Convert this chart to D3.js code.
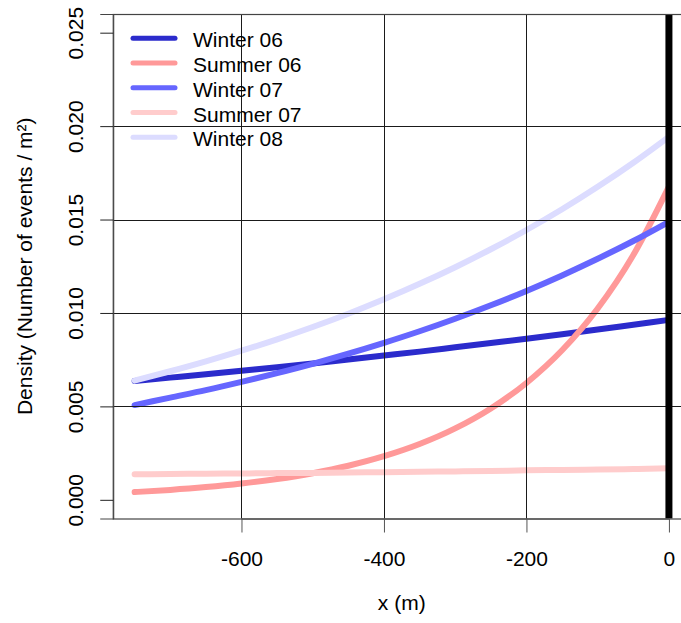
<!DOCTYPE html>
<html>
<head>
<meta charset="utf-8">
<script src="https://cdn.jsdelivr.net/npm/d3@7"></script>
<style>
  html, body { margin: 0; padding: 0; background: #fff; }
  svg { display: block; }
  text { font-family: "Liberation Sans", Arial, sans-serif; fill: #000; }
</style>
</head>
<body>
<svg id="chart" width="681" height="623"></svg>
<script>
// Distance from the origin (m)
const xValues = [-750, -700, -650, -600, -550, -500, -450, -400, -350, -300, -250, -200, -150, -100, -50, 0];

// Density of events per m² for each survey
const winter06 = [0.00636, 0.00654, 0.00672, 0.00691, 0.00710, 0.00730, 0.00751, 0.00772, 0.00793, 0.00816, 0.00839, 0.00862, 0.00886, 0.00911, 0.00937, 0.00963];
const summer06 = [0.000415, 0.000531, 0.000680, 0.000870, 0.001113, 0.001425, 0.001823, 0.002333, 0.002985, 0.003820, 0.004888, 0.006254, 0.008002, 0.010237, 0.013098, 0.016760];
const winter07 = [0.00507, 0.00547, 0.00587, 0.00631, 0.00678, 0.00728, 0.00782, 0.00840, 0.00902, 0.00969, 0.01041, 0.01118, 0.01201, 0.01290, 0.01385, 0.01488];
const summer07 = [0.00137, 0.00138, 0.00140, 0.00141, 0.00143, 0.00144, 0.00146, 0.00148, 0.00150, 0.00152, 0.00154, 0.00158, 0.00160, 0.00162, 0.00165, 0.00169];
const winter08 = [0.00638, 0.00688, 0.00741, 0.00798, 0.00859, 0.00925, 0.00996, 0.01073, 0.01156, 0.01245, 0.01341, 0.01444, 0.01555, 0.01675, 0.01804, 0.01943];

const seriesNames = ["Winter 06", "Summer 06", "Winter 07", "Summer 07", "Winter 08"];
const seriesColors = ["#2b2bcc", "#ff9999", "#6666ff", "#ffcccc", "#dcdcff"];
const seriesValues = [winter06, summer06, winter07, summer07, winter08];

const xTicks = [-600, -400, -200, 0];
const yTicks = [0, 0.005, 0.010, 0.015, 0.020, 0.025];
const yGrid = [0.005, 0.010, 0.015, 0.020];
const xGrid = [-600, -400, -200];

const svg = d3.select("#chart");
const plot = { left: 113.25, right: 690.3, top: 14, bottom: 518.5 };

// Axis limits -750..0 and 0..0.025, each padded by 4% on both sides
const x = d3.scaleLinear().domain([-780, 30]).range([plot.left, plot.right]);
const y = d3.scaleLinear().domain([-0.001, 0.026]).range([plot.bottom, plot.top]);

const fontSize = 21;

// Density curves
const line = d3.line()
  .x((d, i) => x(xValues[i]))
  .y(d => y(d))
  .curve(d3.curveMonotoneX);

svg.append("g")
  .selectAll("path")
  .data(seriesValues)
  .join("path")
  .attr("d", d => line(d))
  .attr("fill", "none")
  .attr("stroke", (d, i) => seriesColors[i])
  .attr("stroke-width", 6)
  .attr("stroke-linecap", "round")
  .attr("stroke-linejoin", "round");

// Reference grid
const grid = svg.append("g").attr("stroke", "#1a1a1a").attr("stroke-width", 1);
grid.selectAll("line.h")
  .data(yGrid)
  .join("line")
  .attr("class", "h")
  .attr("x1", plot.left).attr("x2", plot.right)
  .attr("y1", d => Math.round(y(d)) + 0.5)
  .attr("y2", d => Math.round(y(d)) + 0.5);
grid.selectAll("line.v")
  .data(xGrid)
  .join("line")
  .attr("class", "v")
  .attr("y1", plot.top).attr("y2", plot.bottom)
  .attr("x1", d => Math.round(x(d)) + 0.5)
  .attr("x2", d => Math.round(x(d)) + 0.5);

// Heavy line marking x = 0
svg.append("line")
  .attr("x1", x(0)).attr("x2", x(0))
  .attr("y1", plot.top).attr("y2", plot.bottom)
  .attr("stroke", "#000")
  .attr("stroke-width", 7);

// Plot frame
svg.append("rect")
  .attr("x", plot.left).attr("y", plot.top + 0.5)
  .attr("width", plot.right - plot.left)
  .attr("height", plot.bottom - plot.top)
  .attr("fill", "none")
  .attr("stroke", "#444")
  .attr("stroke-width", 1.2);

// X axis
const xAxis = d3.axisBottom(x)
  .tickValues(xTicks)
  .tickSize(14)
  .tickPadding(20)
  .tickFormat(d3.format("d"));
const gx = svg.append("g")
  .attr("transform", `translate(0,${plot.bottom})`)
  .call(xAxis);
gx.select(".domain").attr("stroke", "#444").attr("d", `M${x(-600)},0.5H${x(0)}`);
gx.selectAll(".tick line").attr("stroke", "#555");
gx.selectAll(".tick text")
  .attr("font-size", fontSize)
  .attr("font-family", "Liberation Sans, Arial, sans-serif")
  .attr("fill", "#000")
  .attr("dy", null)
  .attr("y", 47.5)
  .text(d => d3.format("d")(d).replace("−", "-"));

// Y axis (labels parallel to the axis)
const yAxis = d3.axisLeft(y)
  .tickValues(yTicks)
  .tickSize(13)
  .tickFormat(d3.format(".3f"));
const gy = svg.append("g")
  .attr("transform", `translate(${plot.left},0)`)
  .call(yAxis);
gy.select(".domain").attr("stroke", "#444");
gy.selectAll(".tick line").attr("stroke", "#222");
gy.selectAll(".tick text")
  .attr("font-size", fontSize)
  .attr("font-family", "Liberation Sans, Arial, sans-serif")
  .attr("fill", "#000")
  .attr("x", null).attr("dy", null)
  .attr("text-anchor", "middle")
  .attr("transform", "translate(-30.75,0) rotate(-90)");

// Axis titles
svg.append("text")
  .attr("x", (plot.left + plot.right) / 2)
  .attr("y", 610)
  .attr("text-anchor", "middle")
  .attr("font-size", fontSize)
  .text("x (m)");

svg.append("text")
  .attr("transform", `translate(32,${(plot.top + plot.bottom) / 2}) rotate(-90)`)
  .attr("text-anchor", "middle")
  .attr("font-size", fontSize)
  .text("Density (Number of events / m²)");

// Legend
const legend = svg.append("g");
const rowY = i => 38.3 + i * 24.75;
legend.selectAll("line")
  .data(seriesNames)
  .join("line")
  .attr("x1", 133).attr("x2", 175)
  .attr("y1", (d, i) => rowY(i)).attr("y2", (d, i) => rowY(i))
  .attr("stroke", (d, i) => seriesColors[i])
  .attr("stroke-width", 5)
  .attr("stroke-linecap", "round");
legend.selectAll("text")
  .data(seriesNames)
  .join("text")
  .attr("x", 193)
  .attr("y", (d, i) => rowY(i) + 9)
  .attr("font-size", fontSize)
  .text(d => d);
</script>
</body>
</html>
